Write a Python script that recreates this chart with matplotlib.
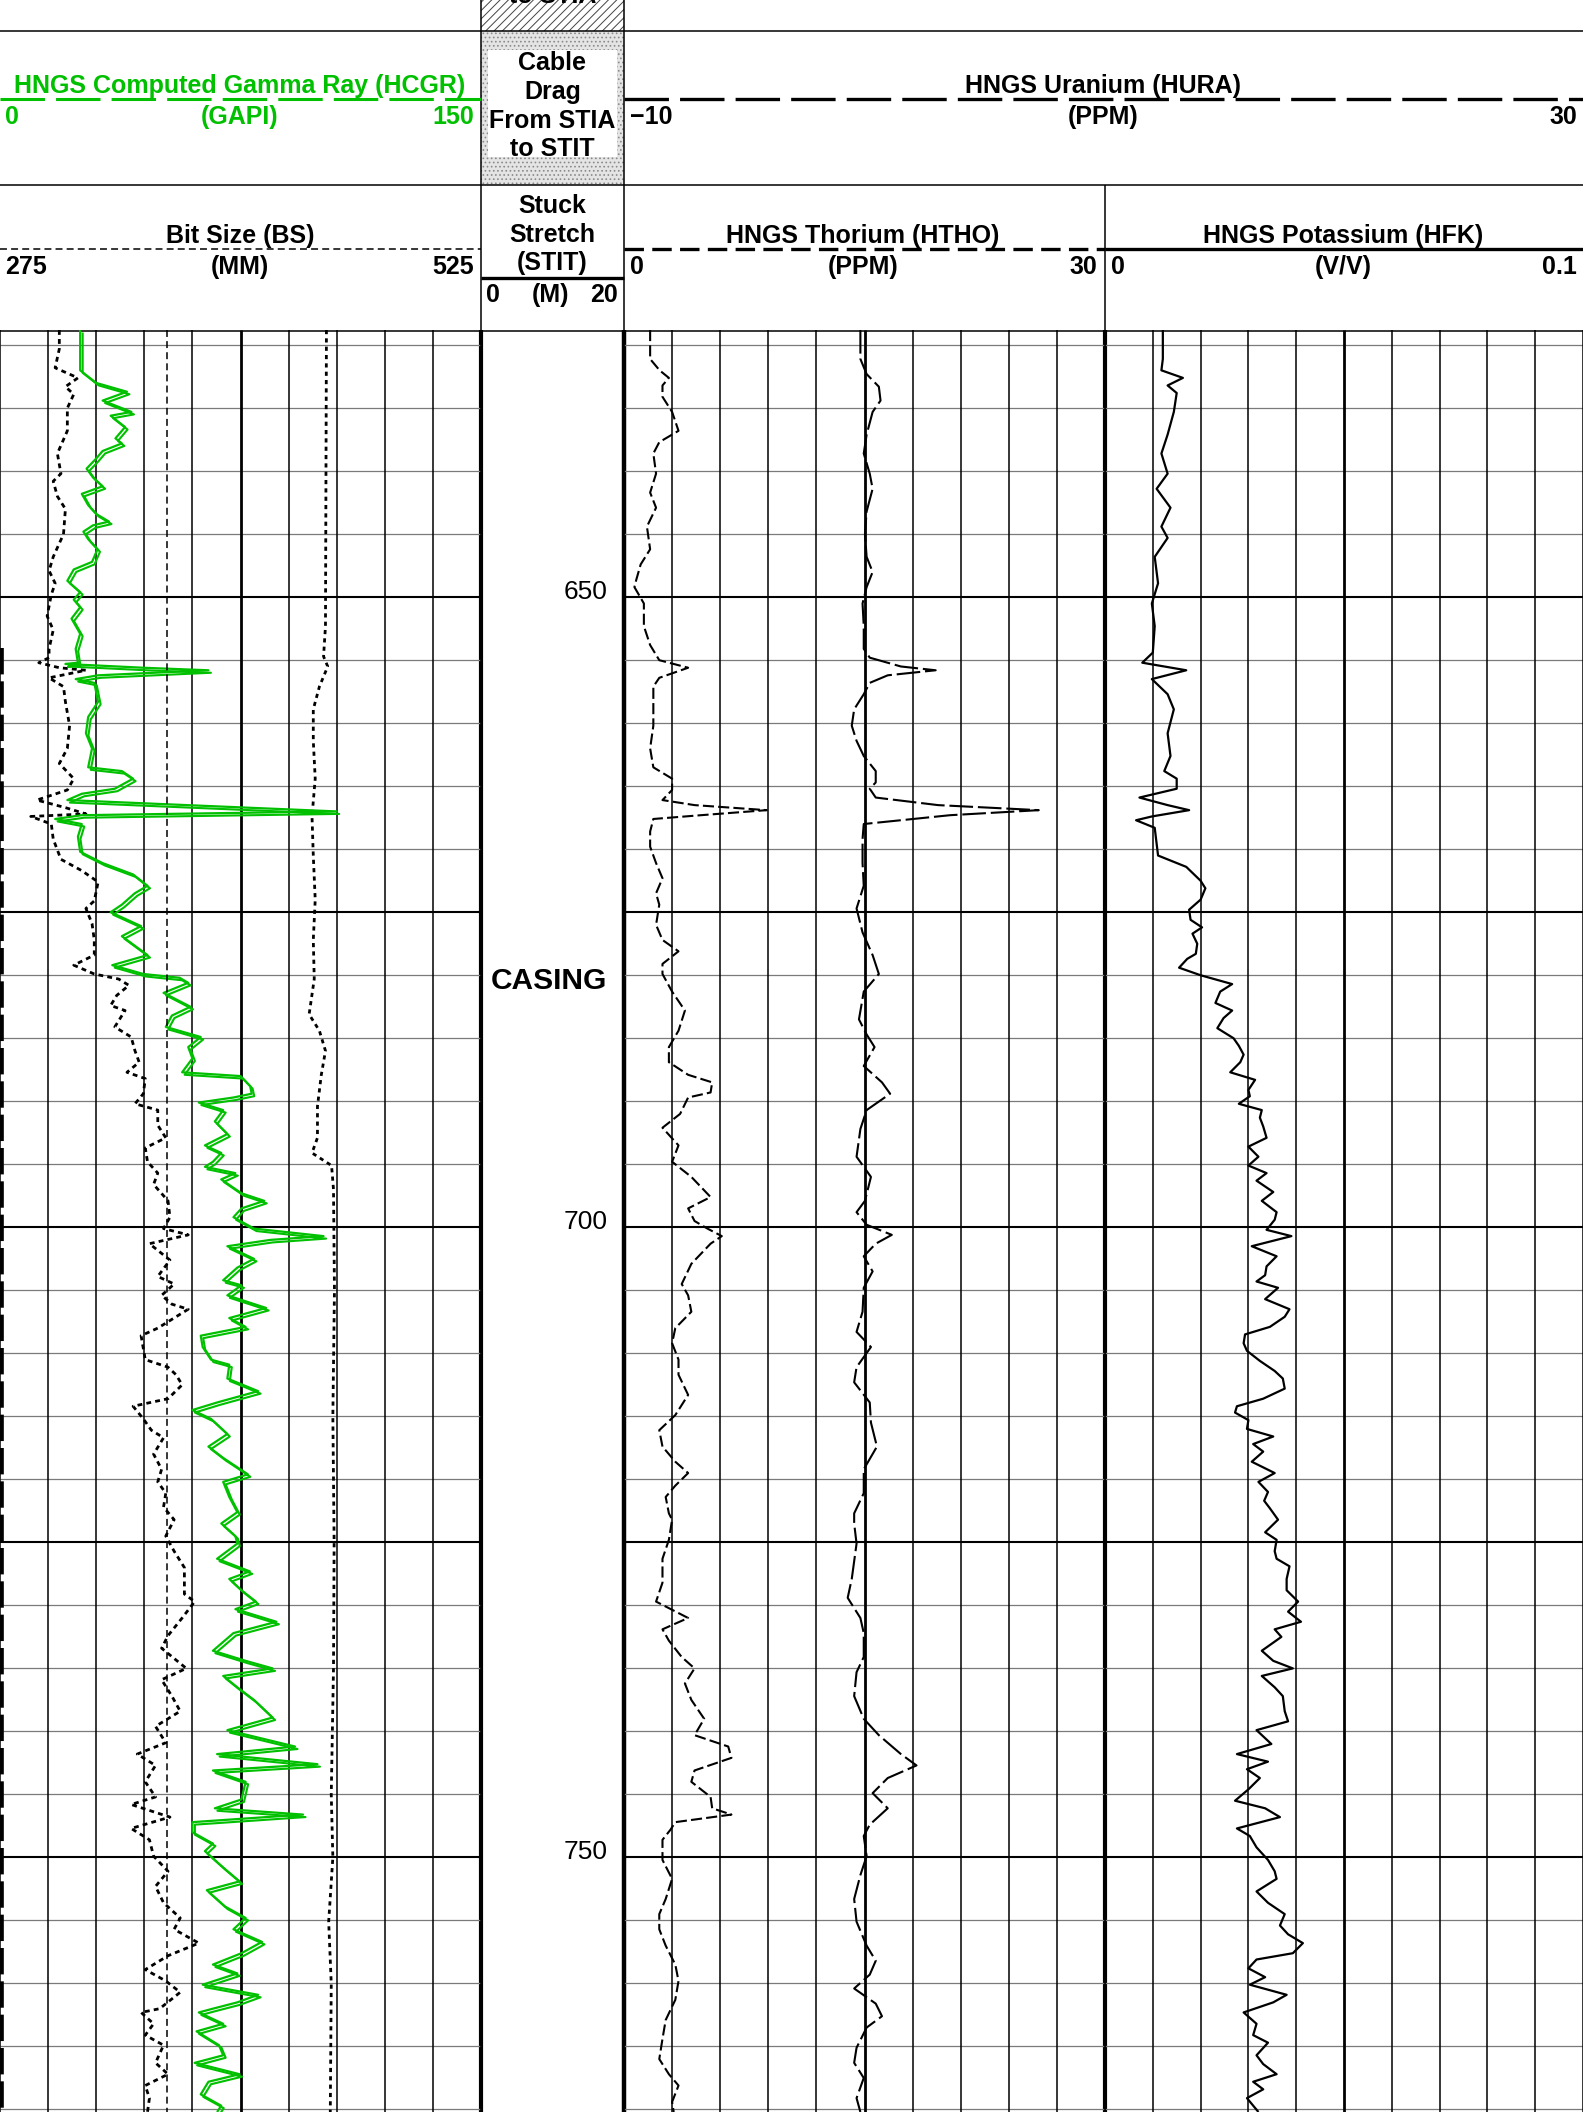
import matplotlib
matplotlib.use('Agg')
import matplotlib.pyplot as plt
from matplotlib import transforms
from matplotlib.patches import Rectangle

plt.rcParams['font.family'] = ['Liberation Sans', 'DejaVu Sans']
plt.rcParams['lines.scale_dashes'] = False
plt.rcParams['hatch.linewidth'] = 0.7
plt.rcParams['lines.solid_capstyle'] = 'butt'
plt.rcParams['lines.dash_capstyle'] = 'butt'

GREEN = '#00c000'
W, H = 1583, 2112
GRID_TOP = 330
DEPTH_TOP, DEPTH_BOT = 628.8, 770.2

# HNGS computed gamma ray, GAPI (track 1, 0-150)
hcgr_depth = [628.8, 631.0, 632.0, 633.0, 633.7, 634.4, 635.3, 635.6, 636.5, 637.4,
              637.8, 638.4, 639.0, 639.8, 640.5, 641.2, 641.8, 642.7, 643.4, 644.0,
              644.3, 644.8, 645.4, 646.2, 647.2, 647.8, 648.7, 649.6, 650.2, 650.8,
              651.7, 652.9, 654.1, 655.2, 655.3, 655.6, 655.8, 656.2, 656.5, 656.8,
              658.3, 659.5, 660.8, 662.0, 663.5, 663.8, 664.4, 665.2, 665.6, 666.1,
              666.5, 667.0, 667.3, 667.6, 668.0, 669.0, 670.2, 671.1, 672.0, 672.9,
              673.5, 674.4, 675.0, 676.1, 676.9, 678.4, 679.2, 679.9, 680.2, 680.6,
              681.4, 682.5, 683.2, 684.1, 684.9, 685.7, 686.6, 687.7, 688.0, 688.8,
              689.4, 689.7, 690.1, 690.7, 691.6, 692.6, 693.5, 694.1, 694.8, 695.2,
              695.7, 696.2, 697.3, 697.9, 698.5, 699.2, 700.1, 700.7, 701.0, 701.5,
              702.5, 703.2, 704.2, 704.6, 705.4, 706.4, 707.2, 707.9, 708.6, 709.5,
              710.5, 710.9, 712.0, 713.0, 713.9, 714.5, 715.2, 716.4, 717.4, 718.3,
              719.6, 720.2, 721.4, 722.6, 723.5, 724.5, 725.1, 726.3, 727.3, 727.9,
              728.8, 729.7, 730.3, 731.3, 732.2, 733.6, 734.4, 735.0, 735.6, 736.5,
              737.5, 738.9, 739.9, 741.2, 741.8, 742.6, 743.1, 744.0, 745.4, 746.1,
              746.6, 747.2, 748.0, 748.9, 749.5, 750.8, 751.9, 752.6, 753.9, 754.8,
              755.7, 756.7, 757.6, 758.5, 759.2, 760.1, 760.9, 761.5, 762.0, 762.3,
              763.2, 763.8, 764.9, 765.7, 766.3, 767.2, 767.8, 768.8, 769.7, 770.2]
hcgr_val = [25, 25, 25, 30, 39.6, 32, 41, 34.5, 39, 36,
            38, 32, 30, 27, 29, 32, 25.5, 27.5, 30, 34,
            29, 26, 27.5, 30.4, 28.7, 23, 21, 25, 23, 25,
            22.3, 25, 23.6, 24.3, 20.4, 44.7, 65, 30.6, 23.6, 29.4,
            30.6, 27.5, 26.8, 28.7, 27.5, 38, 41.5, 35.8, 25.5, 21,
            58.7, 105, 25.5, 17.2, 25.5, 24.3, 25, 32, 41.5, 46,
            42, 38, 34.5, 44, 38, 46, 35, 44.7, 56, 58.7,
            51, 59.4, 53.6, 51.7, 62.6, 58.7, 60, 56.8, 75, 78,
            78.5, 72.8, 62, 69.6, 67, 70.9, 63.9, 69, 66.4, 63.9,
            73.4, 69, 75.3, 82.4, 75.3, 72.8, 79.2, 100.9, 84.3, 70.9,
            79.2, 74, 69.6, 75.3, 70.9, 83, 71.5, 76.6, 62.6, 63.2,
            65.8, 71.5, 70.9, 80.5, 67.7, 60, 65.8, 70.9, 65, 69.6,
            77.3, 69.6, 71.5, 74, 69, 73.4, 74, 67.7, 77.9, 71.5,
            75.3, 79.8, 73.4, 86.2, 72.8, 66.4, 76.6, 85, 69.6, 74,
            79.2, 85, 70.9, 92, 67.7, 99, 66.4, 76.6, 75.3, 67,
            94.5, 60, 60, 66.4, 63.9, 69.6, 74.7, 64.5, 70.2, 76.6,
            72.8, 81.7, 75.3, 66.4, 74, 63.2, 80.5, 74, 66.4, 62,
            69.6, 61.3, 68.3, 69.6, 60.7, 74.7, 65, 62.6, 69, 67.7]

# dotted curve on the left of track 1 (track scale 0-150)
aux1_depth = [628.8, 630.3, 631.8, 632.6, 633.3, 633.9, 635.0, 636.8, 638.6, 640.2,
              640.8, 642.0, 643.0, 645.0, 646.8, 647.9, 648.9, 649.8, 651.5, 652.6,
              654.1, 654.8, 655.2, 655.6, 655.8, 656.4, 657.1, 658.3, 660.2, 662.0,
              663.2, 664.4, 665.3, 666.1, 666.7, 667.2, 667.4, 668.0, 669.2, 670.8,
              671.7, 672.6, 674.1, 674.7, 675.9, 677.2, 678.4, 679.2, 679.9, 680.3,
              680.8, 681.6, 682.4, 682.8, 684.1, 684.9, 686.0, 686.9, 687.7, 688.2,
              689.4, 690.2, 690.7, 691.9, 692.9, 693.7, 694.8, 695.7, 696.6, 697.9,
              699.2, 700.1, 700.6, 701.3, 702.6, 703.9, 704.5, 705.4, 706.1, 706.5,
              708.0, 708.6, 710.5, 711.1, 711.7, 712.5, 713.6, 714.2, 715.2, 716.1,
              716.7, 718.0, 719.2, 720.2, 721.1, 722.2, 723.2, 724.5, 725.7, 727.0,
              729.1, 729.7, 731.0, 732.4, 733.4, 735.0, 735.9, 737.2, 738.4, 739.6,
              740.9, 741.8, 742.7, 744.0, 745.2, 745.8, 746.8, 747.7, 748.6, 749.9,
              751.1, 752.3, 753.6, 754.8, 755.7, 756.8, 757.8, 758.9, 759.8, 760.7,
              762.0, 762.3, 763.2, 764.1, 764.9, 766.3, 767.2, 768.1, 769.1, 770.2]
aux1_val = [18.5, 18.5, 17.2, 24.3, 20.4, 23, 21, 21, 17.9, 19,
            16.6, 17.9, 20.4, 19.8, 16.6, 15.3, 17.2, 16, 14.7, 16.6,
            15.3, 15.3, 12.1, 18.5, 26.8, 15.3, 19.8, 20.4, 21.7, 21,
            18.5, 23, 21, 11.5, 20.4, 26.8, 9.6, 16, 16.6, 19,
            25.5, 30.6, 29.4, 26.8, 28.7, 29.4, 29.4, 23, 29.4, 37,
            40.2, 36.4, 34.5, 39, 35.8, 40.9, 42.1, 43.4, 39.6, 45.3,
            44.7, 42.1, 49.2, 49.2, 51.7, 45.3, 46, 49.2, 47.9, 52.4,
            53, 51, 58.7, 46.6, 53, 49.2, 54.3, 50.4, 53.6, 58.7,
            49.2, 44, 45.3, 52.4, 54.9, 56.8, 52.4, 41.5, 44.7, 47.2,
            51, 47.9, 50.4, 49.2, 51.7, 51, 54.3, 51.7, 54.3, 57.5,
            57.5, 60.7, 56.8, 52.4, 50.4, 58.1, 50.4, 53.6, 56.2, 48.5,
            51.7, 42.8, 48.5, 45.3, 48.5, 40.9, 53, 40.9, 46.6, 47.9,
            52.4, 48.5, 51, 56.2, 54.3, 62, 52.4, 45.3, 51.7, 56.2,
            49.8, 44, 47.9, 45.3, 51, 48.5, 52.4, 45.3, 46.6, 46]

# dotted curve on the right of track 1 (track scale 0-150)
aux2_depth = [628.8, 652.3, 654.7, 655.5, 657.1, 658.9, 661.4, 664.4, 667.4, 670.5,
              674.0, 677.2, 680.3, 683.1, 684.4, 686.0, 687.9, 690.4, 692.9, 694.1,
              695.1, 697.0, 705.0, 715.0, 725.0, 735.0, 745.0, 750.0, 755.1, 760.0, 770.2]
aux2_val = [101.8, 101.5, 100.9, 102.2, 99.6, 97.7, 97.7, 98.3, 97.3, 97.7,
            98.3, 97.7, 98, 96.4, 99.6, 101.5, 100.2, 99, 99, 97.3,
            103.4, 104, 104.3, 103.8, 104.2, 104, 103.3, 103.8, 102.5, 103.3, 103]

# bit size, MM (275-525)
bs_depth = [628.8, 770.2]
bs_val = [362, 362]

# heavy dashed trace along the left edge of track 1
edge_depth = [654.0, 770.2]
edge_val = [0, 0]

# HNGS thorium, PPM (0-30)
htho_depth = [628.8, 631.1, 632.0, 632.6, 633.2, 634.1, 635.3, 636.8, 637.7, 638.6,
              640.2, 641.7, 642.9, 644.4, 646.2, 647.4, 648.6, 649.2, 650.5, 652.3,
              653.8, 655.0, 655.6, 656.4, 657.1, 658.3, 660.2, 662.0, 663.5, 664.4,
              665.3, 666.1, 666.5, 666.9, 667.3, 667.6, 668.6, 669.8, 671.1, 672.3,
              673.5, 674.4, 676.0, 677.2, 678.1, 679.1, 679.9, 681.3, 682.8, 684.4,
              685.7, 686.9, 687.9, 688.5, 689.3, 689.7, 691.0, 692.1, 693.5, 694.8,
              696.0, 697.6, 698.5, 699.5, 700.1, 700.7, 701.3, 702.9, 704.5, 705.4,
              706.7, 708.0, 709.2, 710.5, 711.7, 713.3, 714.9, 716.1, 717.4, 718.6,
              719.5, 720.5, 721.4, 722.7, 723.2, 724.8, 726.3, 728.2, 729.7, 731.0,
              731.9, 732.8, 734.1, 735.0, 736.2, 737.5, 739.0, 740.3, 741.2, 742.1,
              743.1, 744.0, 745.2, 746.1, 746.6, 747.2, 747.8, 748.6, 750.2, 751.7,
              753.3, 754.5, 755.7, 757.0, 758.5, 759.8, 761.3, 762.9, 764.4, 766.0,
              767.2, 768.1, 769.4, 770.2]
htho_val = [1.63, 1.63, 2.22, 2.8, 2.4, 2.4, 3.0, 3.4, 2.2, 1.83,
            2.0, 1.63, 2.0, 1.43, 1.63, 1.04, 0.77, 0.65, 1.24, 1.24,
            1.63, 2.2, 4.0, 2.2, 1.83, 1.83, 1.83, 1.63, 1.83, 3.0,
            3.0, 2.4, 4.4, 8.9, 4.8, 1.83, 1.63, 1.63, 2.0, 2.4,
            2.0, 2.2, 2.0, 2.4, 3.4, 2.4, 2.4, 3.0, 3.8, 3.4,
            2.8, 2.8, 4.0, 5.5, 5.4, 4.0, 3.5, 2.4, 3.4, 3.0,
            4.2, 5.4, 4.0, 4.4, 5.2, 6.1, 5.4, 4.2, 3.6, 4.0,
            4.2, 3.2, 3.0, 3.4, 3.4, 4.0, 3.2, 2.2, 2.4, 3.2,
            4.0, 3.2, 2.6, 2.8, 3.0, 2.8, 2.4, 2.4, 2.0, 4.0,
            2.4, 2.8, 3.6, 4.4, 3.8, 4.2, 5.0, 4.4, 6.5, 6.7,
            4.4, 4.2, 5.4, 5.5, 6.7, 3.2, 2.9, 2.4, 2.4, 3.0,
            2.6, 2.2, 2.2, 2.6, 3.2, 3.4, 3.2, 2.6, 2.4, 2.2,
            2.8, 3.4, 3.0, 3.1]

# HNGS uranium, PPM (-10 to 30, tracks 2+3)
hura_depth = [628.8, 631.1, 632.3, 633.3, 634.4, 635.3, 637.1, 638.6, 640.2, 641.4,
              643.2, 645.0, 646.8, 648.0, 649.2, 650.5, 652.3, 654.1, 654.8, 655.5,
              655.8, 656.2, 656.8, 657.7, 658.9, 660.2, 661.4, 662.6, 663.8, 664.7,
              665.2, 665.9, 666.5, 666.9, 667.3, 668.0, 669.2, 671.1, 672.9, 674.7,
              676.6, 678.4, 679.9, 681.3, 683.5, 684.7, 685.7, 687.2, 688.5, 689.4,
              690.7, 692.2, 694.4, 696.0, 697.9, 698.8, 699.8, 700.6, 701.3, 702.3,
              703.5, 704.8, 706.7, 708.3, 709.5, 711.1, 712.3, 713.9, 715.5, 717.4,
              719.2, 721.1, 722.7, 723.5, 725.1, 727.9, 729.4, 731.0, 732.2, 734.1,
              735.3, 737.2, 739.0, 740.3, 741.8, 742.7, 743.7, 744.9, 746.1, 747.4,
              748.3, 749.9, 751.4, 753.3, 755.1, 757.0, 758.2, 759.3, 760.4, 761.6,
              762.6, 763.5, 765.1, 766.3, 767.5, 769.1, 770.2]
hura_val = [-0.14, -0.14, 0.12, 0.63, 0.7, 0.37, 0.12, 0.0, 0.25, 0.37,
            0.12, 0.05, 0.12, 0.37, 0.12, -0.05, 0.0, 0.0, 0.25, 1.55,
            3.0, 1.0, 0.25, 0.0, -0.4, -0.5, -0.3, 0.0, 0.5, 0.5,
            0.25, 0.5, 3.1, 7.3, 3.6, 0.0, -0.05, -0.05, 0.0, -0.3,
            -0.05, 0.37, 0.63, 0.0, -0.2, 0.12, 0.45, 0.0, 0.76, 1.1,
            0.12, -0.14, -0.3, 0.3, 0.05, -0.3, 0.12, 1.17, 0.5, 0.0,
            0.37, 0.0, -0.05, -0.3, 0.3, -0.3, -0.4, 0.25, 0.3, 0.55,
            0.0, 0.0, -0.4, -0.4, -0.3, -0.5, -0.67, -0.14, 0.0, 0.0,
            -0.3, -0.4, 0.0, 0.63, 1.55, 2.2, 1.0, 0.37, 1.0, 0.25,
            0.0, 0.12, -0.14, -0.4, -0.3, 0.12, 0.5, 0.25, -0.4, 0.5,
            0.76, 0.12, -0.3, -0.4, 0.0, -0.3, -0.14]

# HNGS potassium, V/V (0-0.1), (depth, value) pairs
hfk_pts = [
    (628.8, 0.0121), (631.1, 0.0121), (632.0, 0.0118), (632.6, 0.0163), (633.2, 0.0131),
    (633.8, 0.0150), (635.3, 0.0144), (637.1, 0.0131), (638.6, 0.0118), (640.2, 0.0131),
    (641.4, 0.0108), (642.9, 0.0137), (644.4, 0.0118), (645.3, 0.0131), (646.8, 0.0104),
    (648.9, 0.0111), (650.5, 0.0098), (652.3, 0.0104), (654.4, 0.0100), (655.2, 0.0078),
    (655.8, 0.0170), (656.5, 0.0098), (657.7, 0.0131), (658.9, 0.0144), (660.8, 0.0131),
    (662.6, 0.0137), (663.8, 0.0124), (664.4, 0.0150), (665.2, 0.0150), (665.9, 0.0072),
    (666.5, 0.0131), (666.9, 0.0176), (667.4, 0.0098), (667.7, 0.0065), (668.3, 0.0104),
    (670.5, 0.0111), (671.4, 0.0170), (672.5, 0.0200), (673.1, 0.0210), (674.0, 0.0200),
    (674.8, 0.0176), (675.6, 0.0179), (676.2, 0.0203), (676.7, 0.0183), (677.5, 0.0193),
    (678.3, 0.0190), (678.7, 0.0172), (679.4, 0.0155), (680.0, 0.0200), (680.7, 0.0266),
    (681.3, 0.0241), (682.2, 0.0231), (682.8, 0.0266), (683.4, 0.0248), (684.2, 0.0235),
    (685.0, 0.0269), (685.6, 0.0280), (686.3, 0.0290), (686.9, 0.0283), (687.7, 0.0262),
    (688.3, 0.0314), (689.1, 0.0300), (689.6, 0.0303), (690.2, 0.0280), (690.7, 0.0328),
    (691.3, 0.0324), (692.0, 0.0331), (692.9, 0.0338), (693.6, 0.0300), (694.4, 0.0321),
    (695.1, 0.0300), (695.7, 0.0338), (696.3, 0.0317), (697.2, 0.0352), (697.9, 0.0328),
    (698.8, 0.0359), (699.4, 0.0355), (700.2, 0.0338), (700.7, 0.0390), (701.5, 0.0307),
    (702.3, 0.0359), (703.1, 0.0338), (703.8, 0.0335), (704.3, 0.0317), (704.8, 0.0362),
    (705.7, 0.0335), (706.5, 0.0386), (707.1, 0.0376), (707.9, 0.0345), (708.5, 0.0293),
    (709.2, 0.0290), (709.8, 0.0297), (710.6, 0.0324), (711.4, 0.0355), (712.0, 0.0372),
    (712.8, 0.0376), (713.6, 0.0331), (714.2, 0.0276), (714.7, 0.0272), (715.3, 0.0300),
    (716.0, 0.0297), (716.6, 0.0352), (717.2, 0.0310), (717.8, 0.0331), (718.6, 0.0307),
    (719.5, 0.0355), (720.2, 0.0321), (721.0, 0.0341), (721.7, 0.0333), (722.3, 0.0345),
    (723.2, 0.0362), (724.2, 0.0335), (724.8, 0.0359), (725.7, 0.0355), (726.3, 0.0359),
    (726.9, 0.0386), (727.9, 0.0380), (728.8, 0.0380), (729.7, 0.0404), (730.5, 0.0383),
    (731.3, 0.0410), (731.9, 0.0355), (732.5, 0.0369), (733.6, 0.0328), (734.4, 0.0352),
    (735.0, 0.0393), (735.6, 0.0328), (736.5, 0.0355), (737.2, 0.0372), (738.4, 0.0376),
    (739.2, 0.0383), (739.9, 0.0317), (741.0, 0.0348), (741.8, 0.0276), (742.4, 0.0341),
    (743.0, 0.0297), (743.7, 0.0324), (744.6, 0.0300), (745.5, 0.0272), (746.1, 0.0335),
    (746.8, 0.0366), (747.7, 0.0276), (748.3, 0.0303), (749.2, 0.0317), (750.2, 0.0341),
    (751.1, 0.0355), (751.7, 0.0359), (752.7, 0.0317), (753.6, 0.0341), (754.5, 0.0376),
    (755.4, 0.0366), (756.1, 0.0383), (756.8, 0.0414), (757.6, 0.0393), (758.1, 0.0317),
    (758.8, 0.0300), (759.5, 0.0335), (760.1, 0.0303), (760.9, 0.0380), (761.5, 0.0352),
    (762.3, 0.0290), (763.2, 0.0317), (764.1, 0.0310), (764.7, 0.0341), (765.7, 0.0317),
    (766.4, 0.0331), (767.2, 0.0359), (767.8, 0.0310), (768.4, 0.0331), (769.1, 0.0297),
    (769.7, 0.0310), (770.2, 0.0321),
]
hfk_depth = [p[0] for p in hfk_pts]
hfk_val = [p[1] for p in hfk_pts]

depth_labels = [650, 700, 750]

# ---------------- figure ----------------
fig = plt.figure(figsize=(W / 100, H / 100), dpi=100)
hdr = fig.add_axes([0, 0, 1, 1])
hdr.set_xlim(0, W)
hdr.set_ylim(H, 0)
hdr.axis('off')


def make_track(x0, x1, lo, hi):
    ax = fig.add_axes([x0 / W, 0, (x1 - x0) / W, (H - GRID_TOP) / H])
    ax.set_xlim(lo, hi)
    ax.set_ylim(DEPTH_BOT, DEPTH_TOP)
    ax.axis('off')
    return ax


def draw_grid(ax, lo, hi):
    for d in range(630, 771, 5):
        if d % 25 == 0:
            ax.axhline(d, color='black', lw=1.5, zorder=1)
        else:
            ax.axhline(d, color='#7a7a7a', lw=0.9, zorder=1)
    step = (hi - lo) / 10
    for i in range(11):
        ax.axvline(lo + i * step, color='black', lw=2.0 if i == 5 else 1.1, zorder=1)


ax1 = make_track(0, 481, 0, 150)
draw_grid(ax1, 0, 150)
ax_bs = make_track(0, 481, 275, 525)
axd = make_track(481, 624, 0, 1)
ax2 = make_track(624, 1105, 0, 30)
draw_grid(ax2, 0, 30)
ax3 = make_track(1105, 1583, 0, 0.1)
draw_grid(ax3, 0, 0.1)
axu = make_track(624, 1583, -10, 30)

# track 1 curves
ax_bs.plot(bs_val, bs_depth, color='black', lw=1.1, dashes=(5, 3), zorder=3)
ax1.plot(edge_val, edge_depth, color='black', lw=5.5, dashes=(19, 5), zorder=3)
ax1.plot(aux1_val, aux1_depth, color='black', lw=2.0, dashes=(3.5, 3), zorder=3)
ax1.plot(aux2_val, aux2_depth, color='black', lw=2.0, dashes=(3, 3), zorder=3)
shifted = transforms.offset_copy(ax1.transData, fig=fig, x=2.5, y=-2.5, units='dots')
ax1.plot(hcgr_val, hcgr_depth, color=GREEN, lw=1.5, zorder=4, transform=shifted)
ax1.plot(hcgr_val, hcgr_depth, color=GREEN, lw=1.6, zorder=4)

# tracks 2 / 3 curves
ax2.plot(htho_val, htho_depth, color='black', lw=1.5, dashes=(8, 3), zorder=3)
axu.plot(hura_val, hura_depth, color='black', lw=1.5, dashes=(17, 3.5), zorder=3)
ax3.plot(hfk_val, hfk_depth, color='black', lw=1.6, zorder=3)

# depth track text
for d in depth_labels:
    axd.text(0.888, d + 0.15, str(d), ha='right', va='baseline', fontsize=19)
axd.text(0.476, 681.1, 'CASING', ha='center', va='baseline', fontsize=21.5,
         fontweight='bold')

# heavy borders in the log area
for x, lw in [(481, 3.0), (624, 3.2), (1105, 3.0)]:
    hdr.plot([x, x], [GRID_TOP, H], color='black', lw=lw, zorder=5)

# ---------------- header ----------------
hdr.add_patch(Rectangle((481, 0), 143, 31, facecolor='white', edgecolor='#444444',
                        hatch='////', lw=0))
hdr.text(552.5, 3, 'to STIA', ha='center', va='baseline', fontsize=18, fontweight='bold')
hdr.add_patch(Rectangle((481, 31), 143, 154, facecolor='#e4e4e4', edgecolor='#8a8a8a',
                        hatch='....', lw=0))
hdr.add_patch(Rectangle((488, 50), 129, 107, facecolor='white', edgecolor='none'))

for x0, x1, y in [(0, W, 31), (0, W, 185), (0, W, 331)]:
    hdr.plot([x0, x1], [y, y], color='black', lw=1.1)
for x, y0, y1 in [(481, 0, 330), (624, 0, 330), (1105, 185, 330)]:
    hdr.plot([x, x], [y0, y1], color='black', lw=1.1)

bold = dict(fontsize=18, fontweight='bold', va='baseline')

# gamma ray
hdr.text(240, 93, 'HNGS Computed Gamma Ray (HCGR)', ha='center', color=GREEN, **bold)
hdr.plot([0, 481], [99, 99], color=GREEN, lw=2.2, dashes=(32, 8))
hdr.text(5, 124, '0', ha='left', color=GREEN, **bold)
hdr.text(240, 124, '(GAPI)', ha='center', color=GREEN, **bold)
hdr.text(474, 124, '150', ha='right', color=GREEN, **bold)

# bit size
hdr.text(240, 243, 'Bit Size (BS)', ha='center', **bold)
hdr.plot([0, 481], [249, 249], color='black', lw=1.1, dashes=(5, 3))
hdr.text(5, 274, '275', ha='left', **bold)
hdr.text(240, 274, '(MM)', ha='center', **bold)
hdr.text(474, 274, '525', ha='right', **bold)

# cable drag / stuck stretch
for txt, y in [('Cable', 70), ('Drag', 99), ('From STIA', 128), ('to STIT', 156)]:
    hdr.text(552.5, y, txt, ha='center', **bold)
for txt, y in [('Stuck', 213), ('Stretch', 242), ('(STIT)', 270)]:
    hdr.text(552.5, y, txt, ha='center', **bold)
hdr.plot([481, 624], [278, 278], color='black', lw=2.4)
hdr.text(486, 302, '0', ha='left', **bold)
hdr.text(551, 302, '(M)', ha='center', **bold)
hdr.text(618, 302, '20', ha='right', **bold)

# uranium
hdr.text(1103, 93, 'HNGS Uranium (HURA)', ha='center', **bold)
hdr.plot([624, W], [99, 99], color='black', lw=2.4, dashes=(32, 8))
hdr.text(630, 124, '\u221210', ha='left', **bold)
hdr.text(1103, 124, '(PPM)', ha='center', **bold)
hdr.text(1577, 124, '30', ha='right', **bold)

# thorium
hdr.text(863, 243, 'HNGS Thorium (HTHO)', ha='center', **bold)
hdr.plot([624, 1105], [249, 249], color='black', lw=2.4, dashes=(14, 6))
hdr.text(630, 274, '0', ha='left', **bold)
hdr.text(863, 274, '(PPM)', ha='center', **bold)
hdr.text(1097, 274, '30', ha='right', **bold)

# potassium
hdr.text(1343, 243, 'HNGS Potassium (HFK)', ha='center', **bold)
hdr.plot([1105, W], [249, 249], color='black', lw=2.4)
hdr.text(1111, 274, '0', ha='left', **bold)
hdr.text(1343, 274, '(V/V)', ha='center', **bold)
hdr.text(1577, 274, '0.1', ha='right', **bold)

fig.savefig('out.png', dpi=100)
